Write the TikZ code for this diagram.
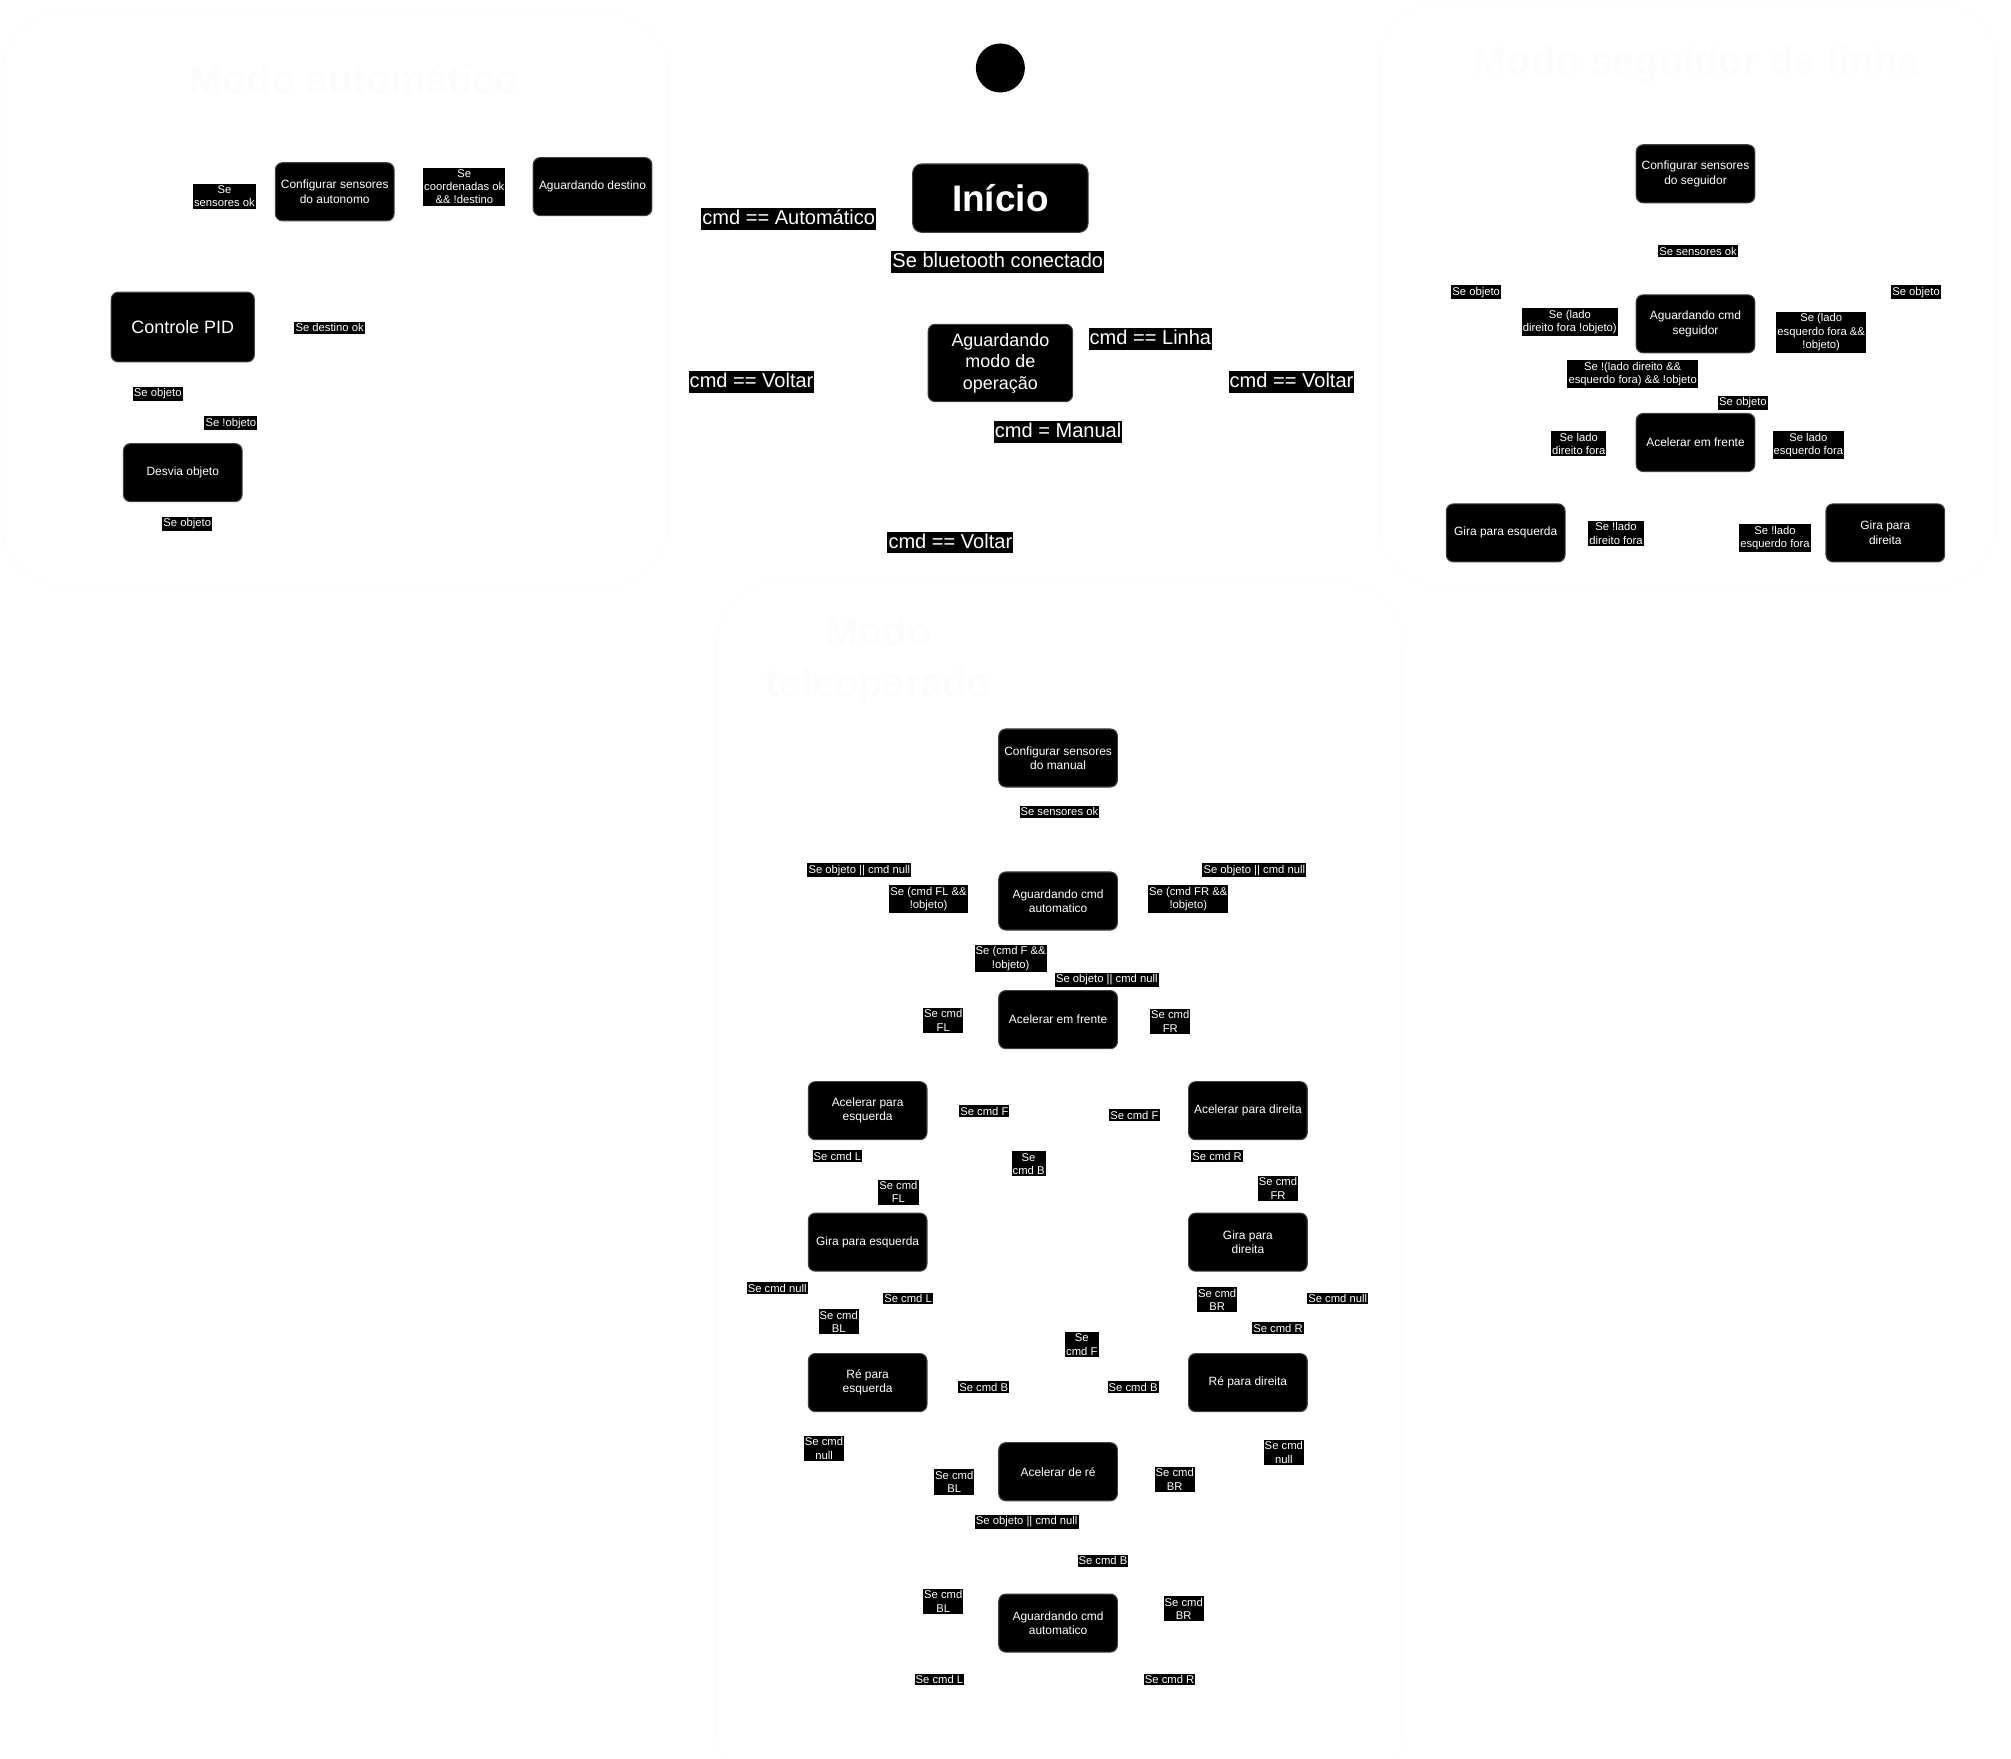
\documentclass[tikz,border=0pt]{standalone}
\usepackage{fontspec}
\setmainfont{Liberation Sans}

\begin{document}
\begin{tikzpicture}[x=0.012824cm, y=-0.012824cm,
    state/.style={rectangle, rounded corners=0.07cm, fill=black,
      draw=black!75, line width=0.3pt, text=white, align=center,
      inner sep=0pt, minimum width=1.186cm, minimum height=0.58cm,
      font=\fontsize{3.4}{4.1}\selectfont},
    bigstate/.style={state, font=\fontsize{5.1}{6.1}\selectfont},
    cond/.style={fill=black, text=white, align=center, inner xsep=0.3pt,
      inner ysep=0.5pt, font=\fontsize{3.2}{3.8}\selectfont},
    bigcond/.style={cond, inner ysep=0.4pt, text height=4.3pt,
      text depth=1.1pt, font=\fontsize{5.7}{6.8}\selectfont},
    modo/.style={draw=black!1, rounded corners=0.6cm},
    titulo/.style={text=black!1, align=center,
      font=\bfseries\fontsize{11.3}{14.6}\selectfont}]
  \useasboundingbox (0,0) rectangle (1568,1371.5);
  \draw[modo] (2,10) rectangle (521,457);
  \draw[modo] (1076,2) rectangle (1556,458);
  \draw[modo] (559,454) rectangle (1093,1400);
  \node[titulo] (tAuto) at (276,62) {Modo automático};
  \node[titulo] (tSeg) at (1323,50) {Modo seguidor de linha};
  \node[titulo] (tTele) at (685,515) {Modo\\teleoperado};

  \node[circle, fill=black, minimum size=0.49cm, inner sep=0pt] (ini) at (780,53) {};
  \node[state, minimum width=1.753cm, minimum height=0.683cm,
    rounded corners=0.09cm, font=\bfseries\fontsize{10.5}{12}\selectfont]
    (inicio) at (780,154.5) {Início};
  \node[bigcond] (cAuto) at (615,171) {cmd == Automático};
  \node[bigcond] (cBt) at (778,204) {Se bluetooth conectado};
  \node[bigstate, minimum width=1.444cm, minimum height=0.773cm]
    (aguardaModo) at (780,283) {Aguardando\\modo de\\operação};
  \node[bigcond] (cLinha) at (897,264) {cmd == Linha};
  \node[bigcond] (cVoltarA) at (586,298) {cmd == Voltar};
  \node[bigcond] (cVoltarS) at (1007,298) {cmd == Voltar};
  \node[bigcond] (cManual) at (825,337) {cmd = Manual};
  \node[bigcond] (cVoltarM) at (741,423) {cmd == Voltar};

  \node[state] (cfgAuto) at (261,149.5) {Configurar sensores\\do autonomo};
  \node[cond] (cSensA) at (175,153) {Se\\sensores ok};
  \node[cond] (cCoord) at (362,145.5) {Se\\coordenadas ok\\\&\& !destino};
  \node[state] (espDest) at (462,145.5) {Aguardando destino};
  \node[bigstate, minimum width=1.431cm, minimum height=0.696cm]
    (pid) at (142.5,255) {Controle PID};
  \node[cond] (cDest) at (257,255.5) {Se destino ok};
  \node[cond] (cObjA) at (123,307) {Se objeto};
  \node[cond] (cNObjA) at (180,330) {Se !objeto};
  \node[state] (desvia) at (142.5,368.5) {Desvia objeto};
  \node[cond] (cObjB) at (146,408.5) {Se objeto};

  \node[state] (cfgSeg) at (1322,135.5) {Configurar sensores\\do seguidor};
  \node[cond] (cSensS) at (1324,196) {Se sensores ok};
  \node[cond] (cObjS1) at (1151,228) {Se objeto};
  \node[cond] (cObjS2) at (1494,228) {Se objeto};
  \node[cond] (cDirS) at (1224,251) {Se (lado\\direito fora !objeto)};
  \node[state] (espSeg) at (1322,252.5) {Aguardando cmd\\seguidor};
  \node[cond] (cEsqS) at (1420,259) {Se (lado\\esquerdo fora \&\&\\!objeto)};
  \node[cond] (cNenhS) at (1273,291.5) {Se !(lado direito \&\&\\esquerdo fora) \&\& !objeto};
  \node[cond] (cObjS3) at (1359,314) {Se objeto};
  \node[state] (frenteSeg) at (1322,345) {Acelerar em frente};
  \node[cond] (cLadoD) at (1231,346) {Se lado\\direito fora};
  \node[cond] (cLadoE) at (1410,347) {Se lado\\esquerdo fora};
  \node[state] (giraEsqS) at (1174,415.5) {Gira para esquerda};
  \node[cond] (cNLadoD) at (1260,416) {Se !lado\\direito fora};
  \node[cond] (cNLadoE) at (1384,419.5) {Se !lado\\esquerdo fora};
  \node[state] (giraDirS) at (1470,415.5) {Gira para\\direita};

  \node[state] (cfgMan) at (825,591) {Configurar sensores\\do manual};
  \node[cond] (cSensM) at (826,633) {Se sensores ok};
  \node[cond] (cNullA) at (670,678.5) {Se objeto || cmd null};
  \node[cond] (cNullB) at (978,678.5) {Se objeto || cmd null};
  \node[cond] (cFL) at (724,701) {Se (cmd FL \&\&\\!objeto)};
  \node[state] (espMan) at (825,702.5) {Aguardando cmd\\automatico};
  \node[cond] (cFR) at (926.5,701) {Se (cmd FR \&\&\\!objeto)};
  \node[cond] (cF) at (788,747.5) {Se (cmd F \&\&\\!objeto)};
  \node[cond] (cNullC) at (863,764) {Se objeto || cmd null};
  \node[cond] (cFL2) at (735.5,795.5) {Se cmd\\FL};
  \node[state] (frente) at (825,795) {Acelerar em frente};
  \node[cond] (cFR2) at (912.5,796.5) {Se cmd\\FR};
  \node[state] (acelEsq) at (676.5,866) {Acelerar para\\esquerda};
  \node[cond] (cF2) at (767.5,866.5) {Se cmd F};
  \node[cond] (cF3) at (884.5,869.5) {Se cmd F};
  \node[state] (acelDir) at (973,866) {Acelerar para direita};
  \node[cond] (cL) at (653,901.5) {Se cmd L};
  \node[cond] (cB) at (802,907.5) {Se\\cmd B};
  \node[cond] (cR) at (949,901.5) {Se cmd R};
  \node[cond] (cFL3) at (700.5,929.5) {Se cmd\\FL};
  \node[cond] (cFR3) at (996.5,926.5) {Se cmd\\FR};
  \node[state] (giraEsq) at (676.5,968.5) {Gira para esquerda};
  \node[state] (giraDir) at (973,968.5) {Gira para\\direita};
  \node[cond] (cNullD) at (606,1004.5) {Se cmd null};
  \node[cond] (cL2) at (708,1012.5) {Se cmd L};
  \node[cond] (cBR) at (949,1013.5) {Se cmd\\BR};
  \node[cond] (cNullE) at (1043,1012.5) {Se cmd null};
  \node[cond] (cBL) at (654,1030.5) {Se cmd\\BL};
  \node[cond] (cR2) at (996.5,1035.5) {Se cmd R};
  \node[cond] (cF4) at (843.5,1048.5) {Se\\cmd F};
  \node[state] (reEsq) at (676.5,1078) {Ré para\\esquerda};
  \node[cond] (cB2) at (767,1081.5) {Se cmd B};
  \node[cond] (cB3) at (883.5,1081.5) {Se cmd B};
  \node[state] (reDir) at (973,1078) {Ré para direita};
  \node[cond] (cNullF) at (642.5,1129.5) {Se cmd\\null};
  \node[cond] (cNullG) at (1001,1132.5) {Se cmd\\null};
  \node[cond] (cBL2) at (744,1155.5) {Se cmd\\BL};
  \node[state] (re) at (825,1147.5) {Acelerar de ré};
  \node[cond] (cBR2) at (916,1153.5) {Se cmd\\BR};
  \node[cond] (cNullH) at (800.5,1186.5) {Se objeto || cmd null};
  \node[cond] (cB4) at (860,1217) {Se cmd B};
  \node[cond] (cBL3) at (735.5,1248.5) {Se cmd\\BL};
  \node[state] (espMan2) at (825,1265.5) {Aguardando cmd\\automatico};
  \node[cond] (cBR3) at (923,1254.5) {Se cmd\\BR};
  \node[cond] (cL3) at (732.5,1309.5) {Se cmd L};
  \node[cond] (cR3) at (912,1309.5) {Se cmd R};
\end{tikzpicture}
\end{document}
